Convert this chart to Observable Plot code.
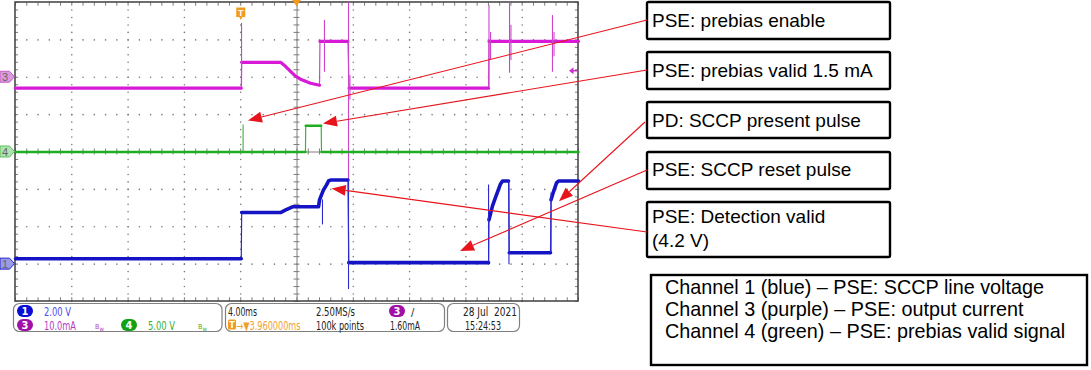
<!DOCTYPE html>
<html><head><meta charset="utf-8">
<script src="https://cdn.jsdelivr.net/npm/d3@7"></script>
<script src="https://cdn.jsdelivr.net/npm/@observablehq/plot@0.6"></script>
<style>
html,body{margin:0;padding:0;background:#fff;}
#chart svg{display:block;}
</style></head><body><div id="chart"></div>
<script>
// ---------- Scope settings (read from the readout) ----------
const channelNames = ["CH1", "CH3", "CH4"];
const voltsPerDiv = {CH1: 2.00, CH3: 10.0, CH4: 5.00};   // V/div, mA/div, V/div
const groundDiv   = {CH1: -3, CH3: 2, CH4: 0};           // channel reference marker, divisions from centre
const timePerDiv = 4.00;          // ms/div
const triggerDelay = 3.960000;    // ms before screen centre
const triggerLevel = 1.60;        // mA on CH3

// ---------- Traces (time in ms from the left edge of the screen) ----------
const ch1Time  = [0,16.04,16.07,18.83,19.2,19.68,21.53,21.6,21.88,22.1,22.24,22.38,23.62,23.68,33.61,33.64,33.89,34.17,34.46,34.6,35.03,35.08,38.01,38.05,38.22,38.44,38.58,40];
const ch1Volts = [0.29,0.29,2.76,2.76,2.9,3.07,3.07,3.44,3.97,4.24,4.45,4.5,4.5,0.08,0.08,2.37,3.12,3.71,4.29,4.45,4.45,0.61,0.61,3.44,3.87,4.35,4.45,4.45];

const ch3Time = [0,16.04,16.07,18.83,19.18,19.54,19.89,20.25,20.96,21.6,21.63,23.62,23.7,33.61,33.64,40];
const ch3mA   = [-2.93,-2.93,4.0,4.0,2.93,1.6,0.27,-0.53,-1.6,-2.13,9.6,9.6,-2.93,-2.93,9.6,9.6];

const ch4Time  = [0,20.6,20.62,21.72,21.74,40];
const ch4Volts = [0,0,3.5,3.5,0,0];

// Fast transients (spikes): time, low, high
const ch1SpikeTime = [21.81, 23.66, 33.61, 35.06, 38.05];
const ch1SpikeLow  = [2.1, -1.36, 0.08, -0.03, 0.61];
const ch1SpikeHigh = [3.44, 4.5, 4.24, 4.45, 3.8];

const ch3SpikeTime = [16.06, 21.95, 23.66, 23.76, 33.64, 33.75, 35.10, 35.20, 38.15, 38.26];
const ch3SpikeLow  = [-2.93, 1.33, -31.5, -6.1, -2.93, 4.5, 1.07, 4.5, 1.33, 5.5];
const ch3SpikeHigh = [14.4, 15.2, 25, 0.5, 19.2, 12.0, 25, 13.9, 16.5, 12.0];

const ch4SpikeTime = [16.17];
const ch4SpikeLow  = [0];
const ch4SpikeHigh = [3.6];

// ---------- Annotations ----------
const noteLines = [["PSE: prebias enable"], ["PSE: prebias valid 1.5 mA"], ["PD: SCCP present pulse"], ["PSE: SCCP reset pulse"], ["PSE: Detection valid", "(4.2 V)"]];
const noteTargetTime = [16.55, 21.88, 38.65, 31.62, 22.5];
const noteTargetDiv  = [0.83, 0.75, -1.33, -2.66, -0.99];
const legendLines = ["Channel 1 (blue) \u2013 PSE: SCCP line voltage", "Channel 3 (purple) \u2013 PSE: output current", "Channel 4 (green) \u2013 PSE: prebias valid signal"];

// ---------- build tables ----------
const traceColor = {CH1: "#1414c4", CH3: "#d81ad8", CH4: "#1fae1f"};
const edgeColor  = {CH1: "#2a2ad0", CH3: "#cc44cc", CH4: "#3cb43c"};
const traceWidth = {CH1: 3.6, CH3: 3.2, CH4: 2.5};
const traces = {
  CH1: ch1Time.map((t, i) => ({ch: "CH1", t, v: ch1Volts[i]})),
  CH3: ch3Time.map((t, i) => ({ch: "CH3", t, v: ch3mA[i]})),
  CH4: ch4Time.map((t, i) => ({ch: "CH4", t, v: ch4Volts[i]}))
};
const spikes = {
  CH1: ch1SpikeTime.map((t, i) => ({ch: "CH1", t, lo: ch1SpikeLow[i], hi: ch1SpikeHigh[i]})),
  CH3: ch3SpikeTime.map((t, i) => ({ch: "CH3", t, lo: ch3SpikeLow[i], hi: ch3SpikeHigh[i]})),
  CH4: ch4SpikeTime.map((t, i) => ({ch: "CH4", t, lo: ch4SpikeLow[i], hi: ch4SpikeHigh[i]}))
};
const toDiv = (ch, v) => groundDiv[ch] + v / voltsPerDiv[ch];
// the noisy thick band follows the slow parts; fast edges break it (NaN gap) and stay thin
const band = ch => {
  const pts = traces[ch], out = [];
  pts.forEach((p, i) => {
    out.push(p);
    const q = pts[i + 1];
    if (q && Math.abs(toDiv(ch, q.v) - toDiv(ch, p.v)) / (q.t - p.t) >= 10) out.push({ch, t: NaN, v: NaN});
  });
  return out;
};

const span = 10 * timePerDiv;
const minorT = d3.range(0, span + 1e-9, timePerDiv / 5);
const minorD = d3.range(-4, 4 + 1e-9, 0.2);
const gridDots = [];
for (let k = 1; k < 10; k++) if (k !== 5) minorD.forEach(d => gridDots.push({t: k * timePerDiv, d}));
for (let j = -3; j <= 3; j++) if (j !== 0) minorT.forEach(t => gridDots.push({t, d: j}));

const grey = "#7c7c7c";
const marks = [
  Plot.dot(gridDots, {x: "t", y: "d", r: 0.8, fill: grey}),
  Plot.ruleX([span / 2], {y1: -4, y2: 4, stroke: grey, strokeWidth: 1}),
  Plot.ruleY([0], {x1: 0, x2: span, stroke: grey, strokeWidth: 1}),
  Plot.ruleY(minorD, {y: d => d, x1: span / 2 - 0.21, x2: span / 2 + 0.21, stroke: grey}),
  Plot.ruleX(minorT, {x: d => d, y1: -0.08, y2: 0.08, stroke: grey}),
  Plot.ruleX(minorT, {x: d => d, y1: 4, y2: 3.9, stroke: grey}),
  Plot.ruleX(minorT, {x: d => d, y1: -4, y2: -3.9, stroke: grey}),
  Plot.ruleY(minorD, {y: d => d, x1: 0, x2: 0.22, stroke: grey}),
  Plot.ruleY(minorD, {y: d => d, x1: span, x2: span - 0.22, stroke: grey}),
  Plot.rect([0], {x1: 0, x2: span, y1: -4, y2: 4, fill: "none", stroke: "#4a4a4a", strokeWidth: 1.6})
];
for (const ch of ["CH3", "CH4", "CH1"]) {
  marks.push(Plot.line(traces[ch], {x: "t", y: d => toDiv(ch, d.v), stroke: edgeColor[ch], strokeWidth: 1.2}));
  marks.push(Plot.line(band(ch), {x: "t", y: d => toDiv(ch, d.v), stroke: traceColor[ch], strokeWidth: traceWidth[ch],
    strokeLinecap: "round", strokeLinejoin: "round"}));
  marks.push(Plot.ruleX(spikes[ch], {x: "t", y1: d => toDiv(ch, d.lo), y2: d => toDiv(ch, d.hi), stroke: edgeColor[ch], strokeWidth: 1.1}));
}

const chart = Plot.plot({
  width: 1091, height: 370,
  marginTop: 0, marginRight: 0, marginBottom: 0, marginLeft: 0,
  x: {domain: [0, span], range: [15, 578], axis: null},
  y: {domain: [-4, 4], range: [301, 2], axis: null, clamp: true},
  style: {background: "#fff", overflow: "visible"},
  marks
});
document.getElementById("chart").appendChild(chart);

// ---------- decorations drawn with the plot's scales ----------
const svg = d3.select(chart);
const xs = chart.scale("x"), ys = chart.scale("y");
const X = v => xs.apply(v), Y = v => ys.apply(v);
const sans = "'Liberation Sans', Arial, sans-serif";
const narrow = "'Liberation Sans Narrow','Arial Narrow','DejaVu Sans Condensed',sans-serif";

// channel reference markers
const markerFill = {CH1: "#9a9ae6", CH3: "#dc9adc", CH4: "#aee2ae"};
const markerStroke = {CH1: "#2424d0", CH3: "#c45ec4", CH4: "#5cc05c"};
for (const ch of channelNames) {
  const y = Y(groundDiv[ch]);
  svg.append("path").attr("d", `M0,${y - 5.5}H9.5L14.5,${y}L9.5,${y + 5.5}H0Z`)
    .attr("fill", markerFill[ch]).attr("stroke", markerStroke[ch]).attr("stroke-width", 1);
  svg.append("text").attr("x", 5).attr("y", y + 4).attr("text-anchor", "middle")
    .attr("font-family", sans).attr("font-size", 11).attr("fill", "#666").text(ch.slice(2));
}
// trigger position marker
const tx = X(span / 2 - triggerDelay);
svg.append("path").attr("d", `M${tx - 4.5},7.5h9v9.5h-3l-1.5,3l-1.5,-3h-3z`).attr("fill", "#f39a1c");
svg.append("text").attr("x", tx).attr("y", 15.5).attr("text-anchor", "middle").attr("font-family", sans)
  .attr("font-weight", "bold").attr("font-size", 9).attr("fill", "#fff").text("T");
// horizontal centre marker
const cx = X(span / 2);
svg.append("path").attr("d", `M${cx - 4.5},0h9l-4.5,6z`).attr("fill", "#f39a1c");
// trigger level marker (CH3)
const ty = Y(toDiv("CH3", triggerLevel));
svg.append("path").attr("d", `M569,${ty}l4.5,-3.5v7z`).attr("fill", "#cc33cc");
svg.append("line").attr("x1", 572).attr("x2", 577).attr("y1", ty).attr("y2", ty).attr("stroke", "#cc33cc").attr("stroke-width", 1.5);

// ---------- status bar ----------
const bar = svg.append("g").attr("font-family", narrow).attr("font-size", 11).attr("text-anchor", "start");
[[13.5, 208.5], [225.5, 219], [447.5, 72]].forEach(([x, w]) =>
  bar.append("rect").attr("x", x).attr("y", 303.5).attr("width", w).attr("height", 28).attr("rx", 6)
    .attr("fill", "#fff").attr("stroke", "#808080").attr("stroke-width", 1.2));
function badge(x, y, label, fill) {
  bar.append("rect").attr("x", x).attr("y", y - 6).attr("width", 16).attr("height", 12).attr("rx", 6).attr("fill", fill);
  bar.append("text").attr("x", x + 8).attr("y", y + 4).attr("text-anchor", "middle").attr("fill", "#fff")
    .attr("font-weight", "bold").attr("font-size", 11).text(label);
}
function txt(x, y, s, fill, size, len) {
  const t = bar.append("text").attr("x", x).attr("y", y).attr("fill", fill).text(s);
  if (size) t.attr("font-size", size);
  if (len) t.attr("textLength", len).attr("lengthAdjust", "spacingAndGlyphs");
  return t;
}
const r1 = 315.5, r2 = 329.5;
badge(17, 311, "1", "#0b0bd6");
txt(44, r1, voltsPerDiv.CH1.toFixed(2) + " V", "#4b4bf2", 11.5, 27);
badge(17, 325, "3", "#a010a8");
txt(44, r2, voltsPerDiv.CH3.toFixed(1) + "mA", "#b23cc0", 11.5, 32);
txt(95, r2 - 1, "B", "#b23cc0", 7); txt(99.5, r2 + 1, "w", "#b23cc0", 6);
badge(121, 325, "4", "#14a014");
txt(148, r2, voltsPerDiv.CH4.toFixed(2) + " V", "#34b034", 11.5, 27);
txt(198, r2 - 1, "B", "#34b034", 7); txt(202.5, r2 + 1, "w", "#34b034", 6);

txt(228, r1, timePerDiv.toFixed(2) + "ms", "#222", 11.5, 29);
txt(316, r1, "2.50MS/s", "#222", 11.5, 39);
badge(389, 311, "3", "#a010a8");
txt(411, r1, "/", "#222");
bar.append("rect").attr("x", 228).attr("y", 319.5).attr("width", 8).attr("height", 10).attr("rx", 1.5).attr("fill", "#f39a1c");
txt(232, r2 - 1.5, "T", "#fff", 9).attr("text-anchor", "middle").attr("font-weight", "bold");
txt(236.5, r2, "\u2192\u25BC" + triggerDelay.toFixed(6) + "ms", "#f0a030", 11.5, 64);
txt(316, r2, "100k points", "#222", 11.5, 48);
txt(390, r2, triggerLevel.toFixed(2) + "mA", "#222", 11.5, 30);
txt(463, r1, "28 Jul  2021", "#222", 11.5, 54).style("white-space", "pre");
txt(465, r2, "15:24:53", "#222", 11.5, 36);

// ---------- annotation boxes and arrows ----------
const note = svg.append("g").attr("font-family", sans).attr("font-size", 19).attr("fill", "#000").attr("text-anchor", "start");
const boxTop = [2, 52, 102, 152, 202], boxBottom = [39, 89, 138, 189, 257];
const anchorY = [20, 70, 122, 170, 232], anchorX = [647, 647, 645, 647, 647];
const baseY = [27, 77, 127, 176, 223];
noteLines.forEach((lines, i) => {
  note.append("rect").attr("x", 647).attr("y", boxTop[i]).attr("width", 243).attr("height", boxBottom[i] - boxTop[i])
    .attr("rx", 1.5).attr("fill", "#fff").attr("stroke", "#000").attr("stroke-width", 2.4);
  lines.forEach((s, j) => note.append("text").attr("x", 652).attr("y", baseY[i] + j * 24).text(s));
});
noteLines.forEach((lines, i) => {
  const ax = anchorX[i], ay = anchorY[i];
  const tx2 = X(noteTargetTime[i]), ty2 = Y(noteTargetDiv[i]);
  const dx = tx2 - ax, dy = ty2 - ay, len = Math.hypot(dx, dy);
  const ux = dx / len, uy = dy / len, L = 14, w = 5.5;
  const bx = tx2 - ux * L, by = ty2 - uy * L;
  svg.append("line").attr("x1", ax).attr("y1", ay).attr("x2", bx).attr("y2", by).attr("stroke", "#e8141c").attr("stroke-width", 1.1);
  svg.append("path").attr("d", `M${tx2},${ty2}L${bx - uy * w},${by + ux * w}L${bx + uy * w},${by - ux * w}Z`).attr("fill", "#e8141c");
});
// legend box
note.append("rect").attr("x", 651).attr("y", 275).attr("width", 436).attr("height", 90)
  .attr("fill", "#fff").attr("stroke", "#000").attr("stroke-width", 2.4);
legendLines.forEach((s, j) => note.append("text").attr("x", 665).attr("y", 293.5 + j * 22).attr("font-size", 19.8).text(s));
</script></body></html>
